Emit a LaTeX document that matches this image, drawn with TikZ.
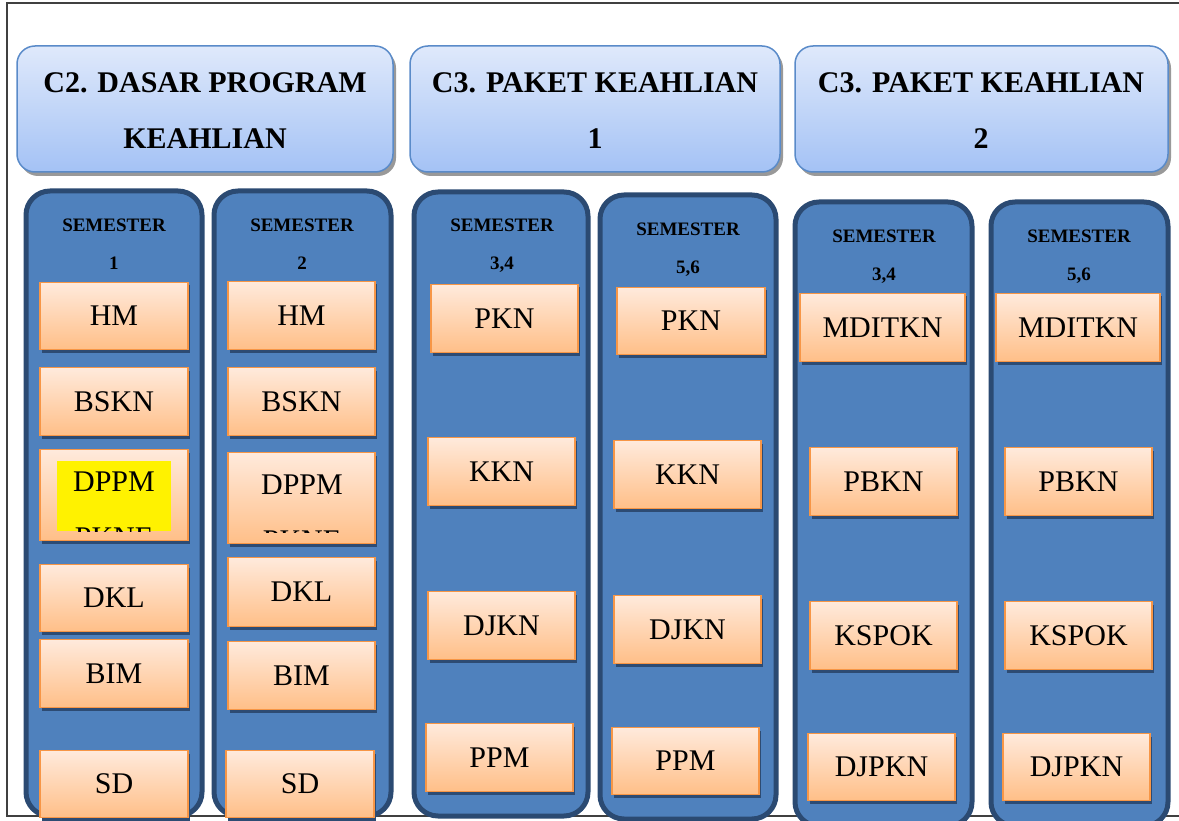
\documentclass[tikz,border=0pt]{standalone}
\usepackage{fontspec}
\setmainfont{Liberation Serif}
\usetikzlibrary{shadows,fit}
\definecolor{hdrtop}{HTML}{DFE9FB}
\definecolor{hdrbot}{HTML}{A4C2F5}
\definecolor{hdrline}{HTML}{5A8BC9}
\definecolor{panelfill}{HTML}{4F81BD}
\definecolor{panelline}{HTML}{2B4A72}
\definecolor{otop}{HTML}{FFEADC}
\definecolor{obot}{HTML}{FFBF88}
\definecolor{oline}{HTML}{F79646}
\definecolor{oshadow}{HTML}{2D4B73}
\definecolor{frameline}{HTML}{404040}
\tikzset{
  hdr/.style={draw=hdrline, line width=1.5pt, rounded corners=18pt,
    top color=hdrtop, bottom color=hdrbot, inner sep=0pt,
    drop shadow={shadow xshift=3pt, shadow yshift=-4pt, fill=black!40, opacity=1}},
  hdrtext/.style={inner sep=0pt, align=center, font=\bfseries\fontsize{30}{56}\selectfont},
  panel/.style={draw=panelline, line width=5pt, rounded corners=24pt, fill=panelfill, inner sep=0pt},
  obox/.style={draw=oline, line width=1.5pt, top color=otop, bottom color=obot, inner sep=0pt,
    drop shadow={shadow xshift=1.5pt, shadow yshift=-3pt, fill=oshadow, opacity=1},
    font=\fontsize{30}{36}\selectfont},
  btext/.style={inner sep=0pt, font=\fontsize{30}{36}\selectfont},
  sem/.style={inner sep=0pt, align=center, font=\bfseries\fontsize{19}{38}\selectfont},
  hilite/.style={fill=yellow, draw=none},
}
% \ob{name}{x1}{y1}{x2}{y2}{text}
\newcommand\ob[6]{\node[obox, minimum width=#4pt-#2pt, minimum height=#5pt-#3pt]
  (#1) at ({(#2+#4)/2},{(#3+#5)/2-0.5}) {#6};}
\begin{document}
\begin{tikzpicture}[x=1pt,y=-1pt]
\path[use as bounding box] (0,0) rectangle (1179,821);
% outer frame
\coordinate (ftr) at (1179,3);
\coordinate (ftl) at (7,3);
\coordinate (fbl) at (7,816);
\coordinate (fbr) at (1179,816);
\draw[frameline, line width=1.2pt] (ftr) -- (ftl) -- (fbl) -- (fbr);
% headers
\node[hdr, fit={(17,46) (393,172)}] (h1) {};
\node[hdr, fit={(410,46) (780,172)}] (h2) {};
\node[hdr, fit={(795,46) (1168,172)}] (h3) {};
\node[hdrtext, anchor=base] (h1t) at (205,149) {C2. DASAR PROGRAM\\KEAHLIAN};
\node[hdrtext, anchor=base] (h2t) at (595,149) {C3. PAKET KEAHLIAN\\1};
\node[hdrtext, anchor=base] (h3t) at (981,149) {C3. PAKET KEAHLIAN\\2};
% panels
\node[panel, fit={(26,191) (202,816)}] (p1) {};
\node[panel, fit={(214,191) (391,816)}] (p2) {};
\node[panel, fit={(414,192) (588,816)}] (p3) {};
\node[panel, fit={(600,195) (776,819)}] (p4) {};
\node[panel, fit={(795,202) (972,826)}] (p5) {};
\node[panel, fit={(991,202) (1168,826)}] (p6) {};
% semester labels
\node[sem, anchor=base] (s1) at (114,270) {SEMESTER\\1};
\node[sem, anchor=base] (s2) at (302,270) {SEMESTER\\2};
\node[sem, anchor=base] (s3) at (502,270) {SEMESTER\\3,4};
\node[sem, anchor=base] (s4) at (688,274) {SEMESTER\\5,6};
\node[sem, anchor=base] (s5) at (884,281) {SEMESTER\\3,4};
\node[sem, anchor=base] (s6) at (1079,281) {SEMESTER\\5,6};
% column 1
\ob{c1hm}{40}{283}{188}{350}{HM}
\ob{c1bskn}{40}{368}{188}{436}{BSKN}
\ob{c1dppm}{40}{450}{188}{541}{}
\fill[hilite] (57,461) rectangle (171,531);
\node[btext, anchor=base] (c1dppmA) at (114,491) {DPPM};
\begin{scope}
\clip (57,461) rectangle (171,531);
\node[btext, anchor=base] (c1dppmB) at (114,547) {PKNE};
\end{scope}
\ob{c1dkl}{40}{565}{188}{632}{DKL}
\ob{c1bim}{40}{640}{188}{708}{BIM}
\ob{c1sd}{40}{751}{188}{818}{SD}
% column 2
\ob{c2hm}{228}{282}{375}{350}{HM}
\ob{c2bskn}{228}{368}{375}{436}{BSKN}
\ob{c2dppm}{228}{453}{375}{544}{}
\node[btext, anchor=base] (c2dppmA) at (302,494) {DPPM};
\begin{scope}
\clip (228,453) rectangle (375,532);
\node[btext, anchor=base] (c2dppmB) at (302,550) {PKNE};
\end{scope}
\ob{c2dkl}{228}{558}{375}{627}{DKL}
\ob{c2bim}{228}{642}{375}{710}{BIM}
\ob{c2sd}{226}{751}{374}{818}{SD}
% column 3
\ob{c3pkn}{431}{285}{578}{353}{PKN}
\ob{c3kkn}{428}{438}{575}{506}{KKN}
\ob{c3djkn}{428}{592}{575}{660}{DJKN}
\ob{c3ppm}{426}{724}{573}{792}{PPM}
% column 4
\ob{c4pkn}{617}{288}{765}{355}{PKN}
\ob{c4kkn}{614}{441}{761}{509}{KKN}
\ob{c4djkn}{614}{596}{761}{664}{DJKN}
\ob{c4ppm}{612}{728}{759}{795}{PPM}
% column 5
\ob{c5mditkn}{800}{294}{965}{362}{MDITKN}
\ob{c5pbkn}{810}{448}{957}{516}{PBKN}
\ob{c5kspok}{810}{602}{957}{670}{KSPOK}
\ob{c5djpkn}{808}{734}{955}{801}{DJPKN}
% column 6
\ob{c6mditkn}{996}{294}{1160}{362}{MDITKN}
\ob{c6pbkn}{1005}{448}{1152}{516}{PBKN}
\ob{c6kspok}{1005}{602}{1152}{670}{KSPOK}
\ob{c6djpkn}{1003}{734}{1150}{801}{DJPKN}
\end{tikzpicture}
\end{document}
